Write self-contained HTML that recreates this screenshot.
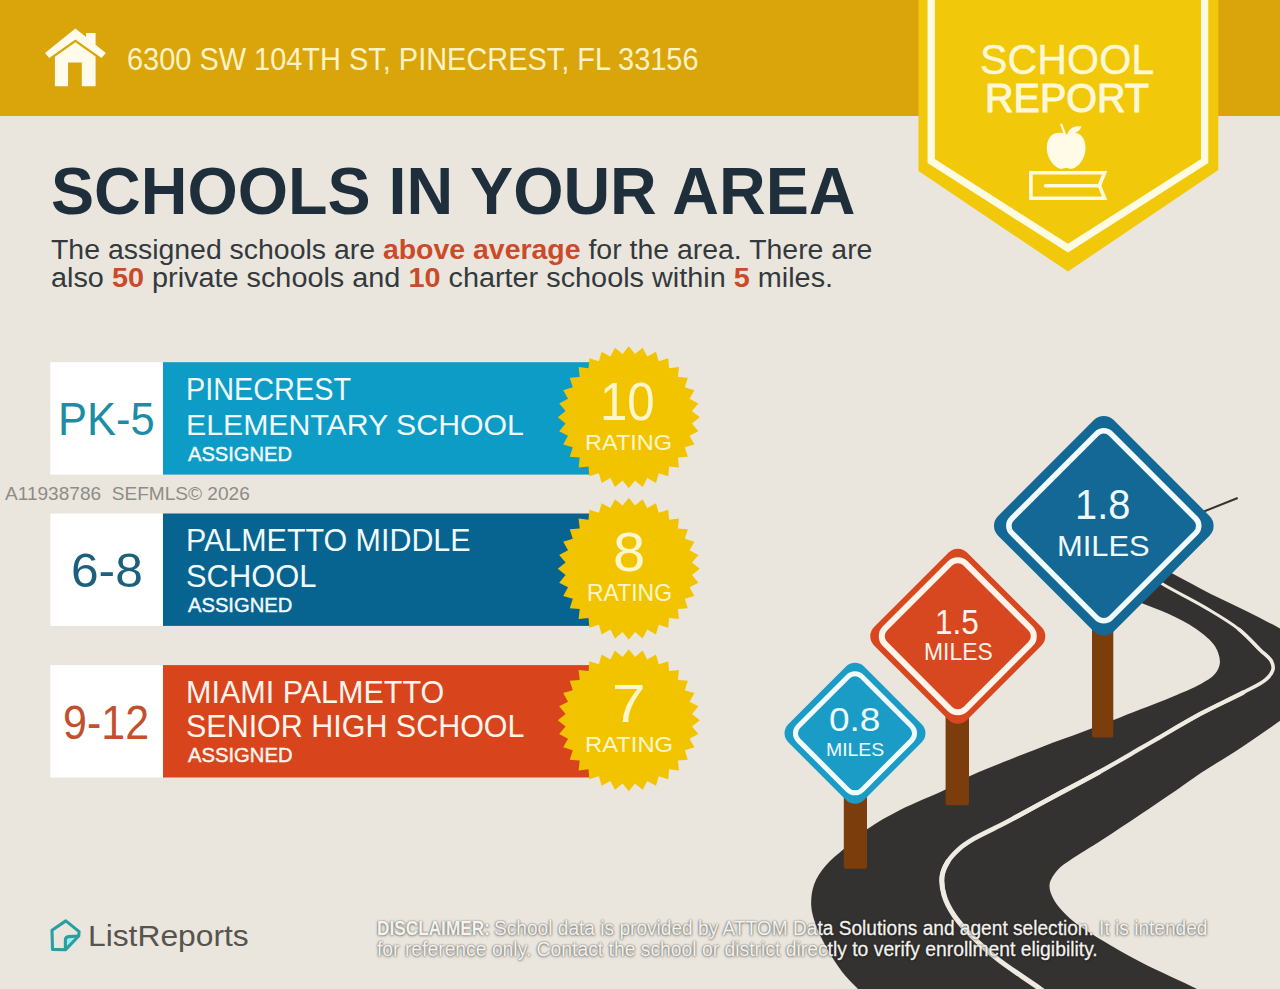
<!DOCTYPE html>
<html><head><meta charset="utf-8"><style>
html,body{margin:0;padding:0;background:#EAE6DD;}
body{width:1280px;height:989px;position:relative;overflow:hidden;font-family:"Liberation Sans",sans-serif;}
svg{position:absolute;left:0;top:0;}
.t div,div.tx>div{position:absolute;white-space:nowrap;transform-origin:0 0;}
b{font-weight:700}
b.o{color:#CB4A2A}
.sb12{-webkit-text-stroke:1.1px currentColor} .sb06{-webkit-text-stroke:0.45px currentColor} .sb03{-webkit-text-stroke:0.35px currentColor}
.dis{text-shadow:0 0 1px rgba(0,0,0,.6),0 0 2px rgba(0,0,0,.5),0 0.5px 3px rgba(0,0,0,.35);-webkit-text-stroke:0.3px #F4F2EE;}
</style></head><body>
<svg width="1280" height="989" viewBox="0 0 1280 989">
<rect x="0" y="0" width="1280" height="989" fill="#EAE6DD"/>
<rect x="0" y="0" width="1280" height="116" fill="#DAA50A"/>
<polygon points="918.5,0 918.5,171 1068,271.5 1218.3,170 1218.3,0" fill="#F2C80A"/>
<polyline points="931.2,-10 931.2,161 1068,248.2 1204.6,161 1204.6,-10" fill="none" stroke="#FFFBE2" stroke-width="7.3" stroke-miterlimit="10"/>
<path d="M1066.5,134.5 C1060,131 1047,131.5 1046.8,148 C1047,160 1056,169 1062,168.8 C1064,168.6 1065,168 1066.2,168 C1067.4,168 1068.4,168.6 1070.4,168.8 C1077,169 1085.5,160 1085.5,148 C1085.3,131.5 1073,131 1066.5,134.5 Z" fill="#FFFBE6"/>
<path d="M1061.4,124.6 L1064.8,134" stroke="#FFFBE6" stroke-width="2.2" stroke-linecap="round" fill="none"/>
<path d="M1067.3,134.2 C1069,128 1075,125.5 1081.5,126.5 C1079.5,132 1073.5,134.5 1067.3,134.2 Z" fill="#FFFBE6"/>
<path d="M1104.6,172.8 L1030.9,172.8 L1030.9,198.3 L1104.6,198.3 L1099.4,185.6 Z" fill="none" stroke="#FFFBE2" stroke-width="3.6" stroke-linejoin="miter"/>
<path d="M1045.5,185.8 L1099,185.8" stroke="#FFFBE2" stroke-width="3.4" stroke-linecap="round"/>
<path d="M45,53 L75.4,28.5 L86,37 L86,33.1 L95.6,33.1 L95.6,44.8 L105.8,53 L101.6,57.9 L75.4,39.5 L49.2,57.9 Z" fill="#FFFBEA"/>
<path d="M54.9,86.2 L54.9,56.7 L75.4,42.3 L95.6,56.5 L95.6,86.2 L81.8,86.2 L81.8,62.5 L68,62.5 L68,86.2 Z" fill="#FFFBEA"/>
<rect x="50.3" y="362.2" width="112.7" height="112.4" fill="#FFFFFF"/>
<rect x="163" y="362.2" width="427" height="112.4" fill="#0C9CC6"/>
<rect x="50.3" y="513.5" width="112.7" height="112.4" fill="#FFFFFF"/>
<rect x="163" y="513.5" width="427" height="112.4" fill="#07638F"/>
<rect x="50.3" y="665.1" width="112.7" height="112.4" fill="#FFFFFF"/>
<rect x="163" y="665.1" width="427" height="112.4" fill="#D8451D"/>
<polygon points="628.80,346.30 635.02,354.11 642.65,347.66 647.23,356.53 655.97,351.70 658.73,361.30 668.25,358.27 669.08,368.21 679.00,367.10 677.89,377.02 687.83,377.85 684.80,387.37 694.40,390.13 689.57,398.87 698.44,403.45 691.99,411.08 699.80,417.30 691.99,423.52 698.44,431.15 689.57,435.73 694.40,444.47 684.80,447.23 687.83,456.75 677.89,457.58 679.00,467.50 669.08,466.39 668.25,476.33 658.73,473.30 655.97,482.90 647.23,478.07 642.65,486.94 635.02,480.49 628.80,488.30 622.58,480.49 614.95,486.94 610.37,478.07 601.63,482.90 598.87,473.30 589.35,476.33 588.52,466.39 578.60,467.50 579.71,457.58 569.77,456.75 572.80,447.23 563.20,444.47 568.03,435.73 559.16,431.15 565.61,423.52 557.80,417.30 565.61,411.08 559.16,403.45 568.03,398.87 563.20,390.13 572.80,387.37 569.77,377.85 579.71,377.02 578.60,367.10 588.52,368.21 589.35,358.27 598.87,361.30 601.63,351.70 610.37,356.53 614.95,347.66 622.58,354.11" fill="#F2C400"/>
<polygon points="628.80,497.80 635.02,505.61 642.65,499.16 647.23,508.03 655.97,503.20 658.73,512.80 668.25,509.77 669.08,519.71 679.00,518.60 677.89,528.52 687.83,529.35 684.80,538.87 694.40,541.63 689.57,550.37 698.44,554.95 691.99,562.58 699.80,568.80 691.99,575.02 698.44,582.65 689.57,587.23 694.40,595.97 684.80,598.73 687.83,608.25 677.89,609.08 679.00,619.00 669.08,617.89 668.25,627.83 658.73,624.80 655.97,634.40 647.23,629.57 642.65,638.44 635.02,631.99 628.80,639.80 622.58,631.99 614.95,638.44 610.37,629.57 601.63,634.40 598.87,624.80 589.35,627.83 588.52,617.89 578.60,619.00 579.71,609.08 569.77,608.25 572.80,598.73 563.20,595.97 568.03,587.23 559.16,582.65 565.61,575.02 557.80,568.80 565.61,562.58 559.16,554.95 568.03,550.37 563.20,541.63 572.80,538.87 569.77,529.35 579.71,528.52 578.60,518.60 588.52,519.71 589.35,509.77 598.87,512.80 601.63,503.20 610.37,508.03 614.95,499.16 622.58,505.61" fill="#F2C400"/>
<polygon points="628.80,649.20 635.02,657.01 642.65,650.56 647.23,659.43 655.97,654.60 658.73,664.20 668.25,661.17 669.08,671.11 679.00,670.00 677.89,679.92 687.83,680.75 684.80,690.27 694.40,693.03 689.57,701.77 698.44,706.35 691.99,713.98 699.80,720.20 691.99,726.42 698.44,734.05 689.57,738.63 694.40,747.37 684.80,750.13 687.83,759.65 677.89,760.48 679.00,770.40 669.08,769.29 668.25,779.23 658.73,776.20 655.97,785.80 647.23,780.97 642.65,789.84 635.02,783.39 628.80,791.20 622.58,783.39 614.95,789.84 610.37,780.97 601.63,785.80 598.87,776.20 589.35,779.23 588.52,769.29 578.60,770.40 579.71,760.48 569.77,759.65 572.80,750.13 563.20,747.37 568.03,738.63 559.16,734.05 565.61,726.42 557.80,720.20 565.61,713.98 559.16,706.35 568.03,701.77 563.20,693.03 572.80,690.27 569.77,680.75 579.71,679.92 578.60,670.00 588.52,671.11 589.35,661.17 598.87,664.20 601.63,654.60 610.37,659.43 614.95,650.56 622.58,657.01" fill="#F2C400"/>
<path d="M1112.0,591.0 C1114.7,586.7 1115.8,582.1 1120.0,578.0 C1126.1,571.9 1138.8,561.3 1148.0,561.0 C1156.6,560.7 1164.1,569.2 1173.3,574.0 C1184.6,579.9 1198.4,587.6 1210.8,593.9 C1222.7,599.9 1234.6,605.1 1246.2,610.9 C1257.6,616.6 1270.3,623.1 1280.0,628.6 C1287.6,633.0 1294.8,635.0 1300.0,641.0 C1305.8,647.7 1310.9,658.4 1312.0,668.0 C1313.2,678.0 1311.3,691.2 1306.0,700.0 C1300.7,708.9 1289.6,713.7 1280.0,720.8 C1268.9,729.0 1256.0,737.7 1243.2,746.2 C1229.7,755.2 1212.9,765.0 1200.8,773.1 C1191.6,779.3 1185.6,783.9 1176.7,790.0 C1165.8,797.5 1152.4,806.4 1140.0,814.7 C1127.4,823.1 1114.1,832.1 1101.9,840.0 C1090.8,847.2 1078.1,854.6 1070.0,860.3 C1064.7,864.0 1060.8,866.2 1057.4,870.2 C1054.0,874.2 1050.2,879.6 1049.6,884.4 C1049.0,889.0 1050.7,893.7 1053.2,898.5 C1056.5,904.9 1063.0,912.1 1070.0,918.4 C1078.5,926.1 1090.3,933.0 1101.6,940.0 C1113.8,947.6 1126.3,954.4 1140.6,961.9 C1157.5,970.7 1183.3,981.8 1197.0,989.0 C1205.1,993.3 1209.7,996.3 1216.0,1000.0 L1216,1010 L850,1010 L858,989 C852.8,983.4 847.3,978.5 842.4,972.2 C836.9,965.1 831.3,956.3 826.8,948.1 C822.4,940.2 818.1,931.6 815.5,924.0 C813.3,917.6 811.5,912.0 811.2,905.6 C810.9,898.8 811.7,891.0 814.1,884.4 C816.5,877.8 820.7,871.7 825.4,866.0 C830.5,859.8 837.2,854.8 843.8,849.0 C851.0,842.6 858.4,835.4 867.1,829.2 C876.9,822.3 887.9,816.2 900.0,810.0 C913.9,802.8 933.2,795.6 946.0,789.2 C955.4,784.5 960.9,780.5 970.0,776.1 C981.4,770.6 996.8,764.8 1009.4,759.7 C1020.9,755.1 1030.8,751.2 1042.5,746.7 C1055.7,741.7 1069.9,736.8 1084.9,731.1 C1102.1,724.6 1124.0,715.8 1140.0,709.5 C1152.3,704.7 1162.1,701.1 1172.5,696.7 C1182.3,692.6 1193.2,688.3 1200.8,684.0 C1206.5,680.8 1211.7,678.0 1214.9,674.1 C1217.6,670.8 1219.6,666.9 1219.9,662.7 C1220.2,657.8 1218.2,651.4 1215.0,646.3 C1211.1,640.1 1203.8,634.5 1196.6,629.3 C1188.5,623.4 1177.9,618.2 1168.3,613.7 C1159.0,609.3 1149.4,606.2 1140.0,602.4 C1130.6,598.6 1121.3,594.8 1112.0,591.0 Z" fill="#333231"/>
<path d="M1145.0,572.0 C1150.9,576.0 1155.4,579.6 1162.6,584.0 C1173.3,590.6 1190.6,598.8 1203.7,606.6 C1216.0,614.0 1229.1,621.4 1239.0,629.3 C1247.4,636.0 1254.3,644.1 1260.2,650.0 C1264.6,654.3 1269.5,657.5 1271.5,661.3" fill="none" stroke="#EFEBE2" stroke-width="3.0" stroke-linecap="round"/>
<path d="M1239.0,629.3 C1247.4,636.0 1254.3,644.1 1260.2,650.0 C1264.6,654.3 1269.5,657.5 1271.5,661.3 C1272.9,664.1 1273.6,667.0 1272.9,669.8 C1272.1,673.1 1269.3,676.6 1265.8,679.7 C1260.7,684.3 1252.0,687.8 1243.2,692.5 C1231.3,698.8 1214.8,706.2 1200.8,713.7 C1186.5,721.4 1169.5,731.6 1158.3,738.1" fill="none" stroke="#EFEBE2" stroke-width="3.6" stroke-linecap="round"/>
<path d="M1243.2,692.5 C1231.3,698.8 1214.8,706.2 1200.8,713.7 C1186.5,721.4 1169.5,731.6 1158.3,738.1 C1150.9,742.4 1147.3,744.5 1140.0,748.7 C1129.1,755.0 1112.9,764.5 1099.1,772.2 C1085.1,780.0 1070.7,787.4 1056.6,795.0 C1042.4,802.6 1024.6,812.4 1014.2,818.0" fill="none" stroke="#EFEBE2" stroke-width="4.3" stroke-linecap="round"/>
<path d="M1099.1,772.2 C1085.1,780.0 1070.7,787.4 1056.6,795.0 C1042.4,802.6 1024.6,812.4 1014.2,818.0 C1008.2,821.2 1005.5,822.7 1000.0,825.5 C992.5,829.4 980.7,834.7 973.3,839.1 C967.7,842.5 963.4,845.2 959.1,849.0 C954.9,852.8 950.7,857.1 947.8,861.7 C945.1,866.1 942.8,870.8 942.1,876.0 C941.3,882.0 942.3,889.3 944.2,895.7" fill="none" stroke="#EFEBE2" stroke-width="4.6" stroke-linecap="round"/>
<path d="M947.8,861.7 C945.1,866.1 942.8,870.8 942.1,876.0 C941.3,882.0 942.3,889.3 944.2,895.7 C946.2,902.5 949.8,909.0 954.1,915.5 C959.0,922.8 965.6,929.8 972.5,936.8 C980.1,944.5 989.4,952.6 998.0,959.4 C1006.0,965.7 1014.5,971.2 1022.0,976.4 C1028.5,980.9 1034.7,984.9 1040.4,989.0 C1045.6,992.7 1050.1,996.3 1055.0,1000.0" fill="none" stroke="#EFEBE2" stroke-width="5.0" stroke-linecap="round"/>
<path d="M1180,521 L1237.7,498" stroke="#3A302C" stroke-width="2"/>
<rect x="843.8" y="780" width="23.200000000000045" height="88.79999999999995" rx="2" fill="#7A3D0B"/>
<rect x="945.6" y="700" width="23.399999999999977" height="105.20000000000005" rx="2" fill="#7A3D0B"/>
<rect x="1092" y="620" width="21.299999999999955" height="117.60000000000002" rx="2" fill="#7A3D0B"/>
<g transform="translate(855,733.3) rotate(45)"><rect x="-53.53" y="-53.53" width="107.06" height="107.06" rx="12.7" fill="#1A9CC7"/><rect x="-45.03" y="-45.03" width="90.06" height="90.06" rx="10" fill="none" stroke="#F2FBFE" stroke-width="5"/></g>
<g transform="translate(957.8,636.2) rotate(45)"><rect x="-65.69" y="-65.69" width="131.38" height="131.38" rx="13" fill="#D84820"/><rect x="-56.99" y="-56.99" width="113.98" height="113.98" rx="11" fill="none" stroke="#FFF3EA" stroke-width="6"/></g>
<g transform="translate(1103.8,525.8) rotate(45)"><rect x="-81.74" y="-81.74" width="163.48" height="163.48" rx="14" fill="#146896"/><rect x="-70.09" y="-70.09" width="140.18" height="140.18" rx="10" fill="none" stroke="#F2FBFE" stroke-width="5.5"/></g>
<path d="M65.4,938.7 L65.4,949.8 L78.7,936 Z" fill="#9BEDEE"/>
<path d="M65.8,920.9 L52,930.2 L52.5,949.4 L65.4,949.8 L78.7,936 L79.1,931.6 Z" fill="none" stroke="#2A9EA2" stroke-width="3.1" stroke-linejoin="round"/>
<path d="M65.4,949.8 L65.4,940 Q65.4,936.8 68.6,936.6 L78.7,936" fill="none" stroke="#2A9EA2" stroke-width="3.1" stroke-linejoin="round"/>
</svg>
<div class="tx">
<div style="left:126.55px;top:43.74px;font-size:31.251px;line-height:31.251px;font-weight:400;color:#FFF3C6;transform:scaleX(0.9261)">6300 SW 104TH ST, PINECREST, FL 33156</div>
<div class="sb03" style="left:979.64px;top:39.31px;font-size:42.152px;line-height:42.152px;font-weight:400;color:#FFF8D6;transform:scaleX(0.9789)">SCHOOL</div>
<div class="sb12" style="left:984.86px;top:79.31px;font-size:40.262px;line-height:40.262px;font-weight:400;color:#FFF8D6;transform:scaleX(0.9816)">REPORT</div>
<div style="left:50.57px;top:158.09px;font-size:66.862px;line-height:66.862px;font-weight:700;color:#1F2E3B;transform:scaleX(0.9668)">SCHOOLS IN YOUR AREA</div>
<div style="left:50.95px;top:235.79px;font-size:27.181px;line-height:27.181px;font-weight:400;color:#33393C;transform:scaleX(1.0465)">The assigned schools are <b class="o">above average</b> for the area. There are</div>
<div style="left:50.94px;top:264.39px;font-size:27.181px;line-height:27.181px;font-weight:400;color:#33393C;transform:scaleX(1.0610)">also <b class="o">50</b> private schools and <b class="o">10</b> charter schools within <b class="o">5</b> miles.</div>
<div style="left:58.00px;top:396.45px;font-size:46.948px;line-height:46.948px;font-weight:400;color:#1B8DA5;transform:scaleX(0.9253)">PK-5</div>
<div style="left:186.12px;top:373.83px;font-size:30.669px;line-height:30.669px;font-weight:400;color:#F2FAFC;transform:scaleX(0.9405)">PINECREST</div>
<div style="left:186.00px;top:409.50px;font-size:30.233px;line-height:30.233px;font-weight:400;color:#F2FAFC;transform:scaleX(1.0009)">ELEMENTARY SCHOOL</div>
<div class="sb06" style="left:188.00px;top:443.52px;font-size:20.058px;line-height:20.058px;font-weight:400;color:#F2FAFC;transform:scaleX(1.0039)">ASSIGNED</div>
<div style="left:600.37px;top:374.10px;font-size:54.216px;line-height:54.216px;font-weight:400;color:#FFF6CC;transform:scaleX(0.9074)">10</div>
<div style="left:584.90px;top:431.75px;font-size:22.384px;line-height:22.384px;font-weight:400;color:#FFF6CC;transform:scaleX(1.0506)">RATING</div>
<div style="left:71.30px;top:547.08px;font-size:47.385px;line-height:47.385px;font-weight:400;color:#1D607E;transform:scaleX(1.0484)">6-8</div>
<div style="left:186.06px;top:525.22px;font-size:31.396px;line-height:31.396px;font-weight:400;color:#F2FAFC;transform:scaleX(0.9697)">PALMETTO MIDDLE</div>
<div style="left:185.98px;top:560.53px;font-size:30.669px;line-height:30.669px;font-weight:400;color:#F2FAFC;transform:scaleX(1.0079)">SCHOOL</div>
<div class="sb06" style="left:188.00px;top:594.16px;font-size:21.076px;line-height:21.076px;font-weight:400;color:#F2FAFC;transform:scaleX(0.9574)">ASSIGNED</div>
<div style="left:613.30px;top:524.53px;font-size:55.233px;line-height:55.233px;font-weight:400;color:#FFF6CC;transform:scaleX(1.0500)">8</div>
<div style="left:586.65px;top:581.66px;font-size:23.547px;line-height:23.547px;font-weight:400;color:#FFF6CC;transform:scaleX(0.9750)">RATING</div>
<div style="left:63.18px;top:698.58px;font-size:47.385px;line-height:47.385px;font-weight:400;color:#C24F2E;transform:scaleX(0.9077)">9-12</div>
<div style="left:186.04px;top:676.66px;font-size:31.105px;line-height:31.105px;font-weight:400;color:#FFF5EE;transform:scaleX(0.9815)">MIAMI PALMETTO</div>
<div style="left:186.02px;top:711.91px;font-size:30.814px;line-height:30.814px;font-weight:400;color:#FFF5EE;transform:scaleX(0.9891)">SENIOR HIGH SCHOOL</div>
<div class="sb06" style="left:188.00px;top:745.38px;font-size:20.931px;line-height:20.931px;font-weight:400;color:#FFF5EE;transform:scaleX(0.9664)">ASSIGNED</div>
<div style="left:611.85px;top:675.82px;font-size:54.071px;line-height:54.071px;font-weight:400;color:#FFF6CC;transform:scaleX(1.1167)">7</div>
<div style="left:584.87px;top:734.15px;font-size:22.384px;line-height:22.384px;font-weight:400;color:#FFF6CC;transform:scaleX(1.0633)">RATING</div>
<div style="left:829.06px;top:703.93px;font-size:32.559px;line-height:32.559px;font-weight:400;color:#EEFCFF;transform:scaleX(1.1372)">0.8</div>
<div style="left:825.69px;top:739.66px;font-size:19.186px;line-height:19.186px;font-weight:400;color:#EEFCFF;transform:scaleX(1.0125)">MILES</div>
<div style="left:935.21px;top:603.92px;font-size:35.175px;line-height:35.175px;font-weight:400;color:#FFF2EA;transform:scaleX(0.8978)">1.5</div>
<div style="left:923.77px;top:640.94px;font-size:23.692px;line-height:23.692px;font-weight:400;color:#FFF2EA;transform:scaleX(0.9662)">MILES</div>
<div style="left:1075.17px;top:483.81px;font-size:42.152px;line-height:42.152px;font-weight:400;color:#EEFAFF;transform:scaleX(0.9444)">1.8</div>
<div style="left:1056.84px;top:530.65px;font-size:29.942px;line-height:29.942px;font-weight:400;color:#EEFAFF;transform:scaleX(1.0310)">MILES</div>
<div style="left:88.37px;top:921.17px;font-size:29.797px;line-height:29.797px;font-weight:400;color:#57534F;transform:scaleX(1.0669)">ListReports</div>
<div class="dis" style="left:377.31px;top:919.03px;font-size:19.332px;line-height:19.332px;font-weight:700;color:#F6F4F0;transform:scaleX(0.8911)">DISCLAIMER:</div>
<div class="dis" style="left:494.31px;top:919.03px;font-size:19.332px;line-height:19.332px;font-weight:400;color:#F4F2EE;transform:scaleX(0.9892)">School data is provided by ATTOM Data Solutions and agent selection. It is intended</div>
<div class="dis" style="left:377.40px;top:939.63px;font-size:19.332px;line-height:19.332px;font-weight:400;color:#F4F2EE;transform:scaleX(0.9994)">for reference only. Contact the school or district directly to verify enrollment eligibility.</div>
<div class="wm" style="left:5.00px;top:484.99px;font-size:18.314px;line-height:18.314px;font-weight:400;color:#8E8C87;transform:scaleX(1.0419)">A11938786&nbsp;&nbsp;SEFMLS&copy; 2026</div>
</div>
</body></html>
